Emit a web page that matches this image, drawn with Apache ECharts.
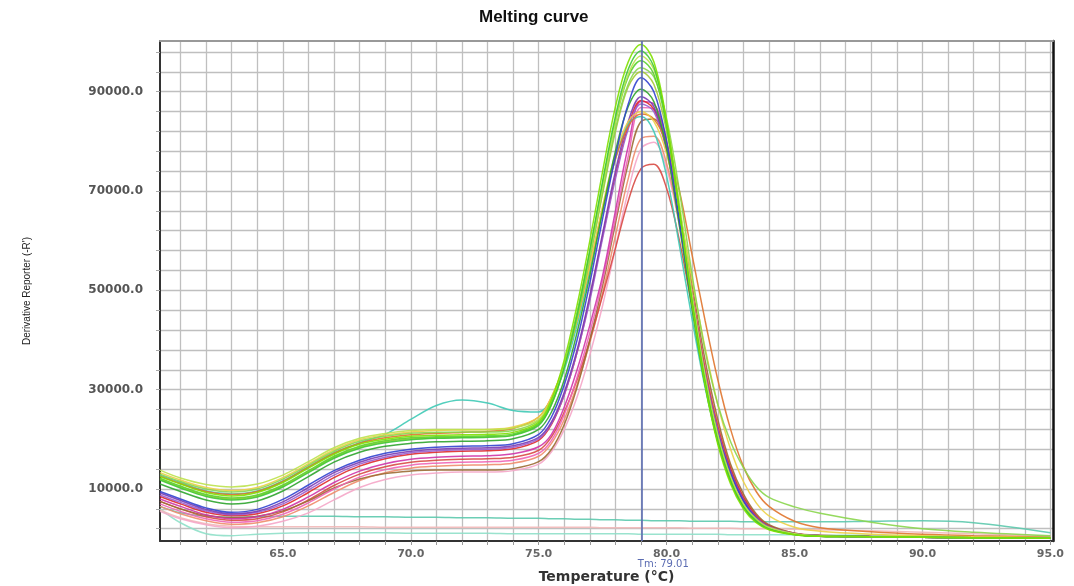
<!DOCTYPE html>
<html><head><meta charset="utf-8">
<script src="https://cdn.jsdelivr.net/npm/echarts@6/dist/echarts.min.js"></script>
<style>html,body{margin:0;padding:0;background:#fff}#c{width:1074px;height:586px}</style>
</head><body><div id="c"></div>
<script>
// Temperature sample points (°C)
const temps = [60.2,61,62,63,64,65,66,67,68,69,70,71,72,73,74,75,75.5,76,76.5,77,77.5,78,78.5,79,79.5,80,80.5,81,81.5,82,82.5,83,83.5,84,85,86,88,90,92,95];
// Axis ticks / labels
const xGridValues = [61,62,63,64,65,66,67,68,69,70,71,72,73,74,75,76,77,78,79,80,81,82,83,84,85,86,87,88,89,90,91,92,93,94,95];
const xLabelValues = [65,70,75,80,85,90,95];
const yLabelValues = [10000,30000,50000,70000,90000];
const yGridValues = [2000,6000,10000,14000,18000,22000,26000,30000,34000,38000,42000,46000,50000,54000,58000,62000,66000,70000,74000,78000,82000,86000,90000,94000,98000];
const tm = 79.01;

// Derivative reporter values, in thousands (-R')
const wellLime     = [12.5,11.0,9.3,8.6,9.3,11.3,14.2,17.0,19.0,20.0,20.6,20.8,20.9,21.0,21.4,23.5,28,36,47,60,74,87,96,99.5,96,84,66,47,31,19,11,6,3.2,1.8,0.8,0.5,0.4,0.3,0.2,0.1];
const wellGreen    = [11.8,10.2,8.5,7.8,8.4,10.4,13.3,16.2,18.2,19.3,19.9,20.2,20.3,20.4,20.8,22.8,27,34.5,45,58,72,85,94.5,98.2,95,83.5,66,47.5,31.5,19.5,11.5,6.3,3.4,1.9,0.8,0.5,0.4,0.3,0.2,0.1];
const wellYellowGr = [13.8,12.2,10.9,10.4,11.0,12.8,15.5,18.3,20.2,21.2,21.8,22.0,22.0,22.0,22.3,24.0,28,35,45,57.5,71,84,93.5,97.2,94.5,84,67.5,49,33,21,12.5,7,4,2.3,1.0,0.6,0.4,0.3,0.2,0.1];
const wellGreen2   = [12.2,10.6,8.9,8.2,8.8,10.8,13.7,16.6,18.6,19.7,20.3,20.5,20.6,20.7,21.1,23.2,27.5,35,45.5,58,71.5,84,93,96.2,93.5,83,66.5,48.5,32.5,20.5,12,6.7,3.6,2.0,0.9,0.5,0.4,0.3,0.2,0.1];
const wellShoulder = [13.0,11.5,10.0,9.4,10.0,12.0,14.8,17.6,19.6,20.6,21.2,21.4,21.5,21.5,21.8,23.8,28,35,44.5,56.5,70,82.5,91.5,94.8,93,84.5,70,53,38,27,19.5,14.3,10.5,8.3,6.4,5.1,3.3,2.0,1.3,0.6];
const wellDkGreen  = [11.0,9.5,7.8,7.0,7.6,9.6,12.5,15.4,17.4,18.6,19.2,19.5,19.6,19.7,20.1,22.0,25.5,32,41.5,53,66,78,87,90.5,88,78.5,63,46,31,19.5,11.5,6.5,3.5,2.0,0.9,0.5,0.4,0.3,0.2,0.1];
const wellOlive    = [12.0,10.4,8.7,8.0,8.6,10.6,13.5,16.4,18.4,19.5,20.1,20.3,20.4,20.5,20.9,23.0,27,34.5,44.5,56.5,69.5,82,91,94,91.5,82,66,48.5,32.5,20.5,12,6.8,3.7,2.1,0.9,0.5,0.4,0.3,0.2,0.1];
const wellBlue     = [9.5,8.0,6.2,5.3,5.9,7.9,10.8,13.7,15.8,17.2,18.0,18.4,18.6,18.7,19.1,21.0,24.5,31,40,51.5,64.5,77,87.5,92.8,90,80,64,47,32,21,13,7.5,4,2.2,0.9,0.6,0.4,0.3,0.2,0.1];
const wellPurple   = [9.2,7.7,5.9,5.0,5.5,7.4,10.3,13.3,15.4,16.8,17.6,18.0,18.2,18.3,18.7,20.4,23.5,29.5,38,49,61.5,74,84,89,87,78.5,64,48,33,21.5,13.5,7.8,4.3,2.4,1.0,0.6,0.4,0.3,0.2,0.1];
const wellViolet   = [8.8,7.3,5.6,4.8,5.3,7.0,9.8,12.8,15.0,16.4,17.3,17.7,17.9,18.0,18.4,20.1,23.2,29,37.5,48,60.5,72.5,82.5,87.5,86,78,64,48.5,33.5,22,13.5,7.9,4.3,2.4,1.0,0.6,0.4,0.3,0.2,0.1];
const wellRed      = [8.5,7.0,5.3,4.6,5.0,6.6,9.3,12.3,14.6,16.1,17.0,17.4,17.6,17.7,18.1,19.8,23,29,37.5,48.5,61,73,83,88.2,86.5,78.5,64.5,49,34,22.5,14,8.2,4.5,2.5,1.0,0.6,0.4,0.3,0.2,0.1];
const wellMagenta  = [8.0,6.5,4.8,4.0,4.4,5.9,8.4,11.3,13.6,15.1,16.0,16.4,16.6,16.7,17.1,18.5,21,26.5,34,43,53,66,79,88,87.5,80,65.5,49,33.5,21.5,13,7.5,4.0,2.2,0.9,0.5,0.4,0.3,0.2,0.1];
const wellPink     = [7.0,5.5,4.0,3.3,3.6,4.9,7.2,10.0,12.4,13.9,14.8,15.2,15.4,15.5,15.8,17.2,19.8,25,32.5,41.5,52,64.5,77,86.8,86.5,79.5,65.5,49.5,34,22,13.5,7.8,4.2,2.3,0.9,0.5,0.4,0.3,0.2,0.1];
const wellTeal     = [12.8,11.3,9.6,9.0,9.6,11.6,14.5,17.3,19.3,21.0,24.0,26.8,27.9,27.3,25.8,25.5,28,34,43,54,66,76.5,83.5,85,82,73,59,44,30.5,19.5,11.5,6.5,3.5,2.0,0.9,0.5,0.4,0.3,0.2,0.1];
const wellOrange   = [12.6,11.1,9.5,8.9,9.5,11.5,14.4,17.2,19.2,20.3,20.9,21.2,21.4,21.6,22.2,24.5,28.5,35,44,55,66.5,76.5,83,85.5,84.5,79.5,70,57,44,32,22,14.5,9.5,6.5,3.5,2.2,1.4,0.9,0.6,0.3];
const wellYellow   = [13.3,11.8,10.3,9.7,10.3,12.3,15.1,17.9,19.9,20.9,21.5,21.8,21.9,22.0,22.5,24.5,28.5,35,44,55,67,77.5,84,86,84,77.5,66,52,38.5,27,18,11.5,7.2,4.6,2.3,1.5,0.9,0.6,0.4,0.2];
const wellBrown    = [7.5,6.0,4.7,4.2,4.5,5.6,7.6,10.2,12.0,13.1,13.6,13.8,13.8,13.8,14.1,15.5,18,23,30.5,40,51,63.5,75.5,84,84.5,78.5,66,51,36,24,15,9,5,2.8,1.1,0.6,0.4,0.3,0.2,0.1];
const wellSalmon   = [6.5,5.0,3.6,2.9,3.2,4.4,6.6,9.3,11.7,13.3,14.2,14.6,14.8,14.9,15.2,16.6,19.2,24,31,39.5,49.5,61,72.5,80.5,81,75.5,63.5,49,34.5,23,14.5,8.5,4.7,2.6,1.0,0.6,0.4,0.3,0.2,0.1];
const wellLtPink   = [5.5,4.0,2.8,2.2,2.5,3.5,5.2,7.8,10.3,11.9,12.8,13.2,13.4,13.4,13.7,15.0,17.5,22,28.5,37,47,58.5,70,78.5,79.8,74.5,63,48.5,34,22.5,14,8.2,4.5,2.5,1.0,0.6,0.4,0.3,0.2,0.1];
const wellRed2     = [7.5,6.0,4.4,3.7,4.0,5.4,7.8,10.7,13.0,14.5,15.4,15.8,16.0,16.1,16.4,17.8,20.5,25.5,32,40,49,58.5,68,74.5,75.4,70.5,60,46.5,33,22,14,8.3,4.6,2.6,1.1,0.7,0.5,0.4,0.3,0.1];
const wellNtc1     = [6.5,5.2,4.5,4.3,4.4,4.5,4.5,4.5,4.4,4.4,4.3,4.3,4.2,4.2,4.1,4.1,4.0,4.0,3.9,3.9,3.8,3.8,3.7,3.7,3.6,3.6,3.6,3.5,3.5,3.5,3.5,3.4,3.4,3.4,3.4,3.4,3.5,3.6,3.2,1.2];
const wellNtc2     = [6.0,3.2,1.0,0.6,0.9,1.1,1.2,1.2,1.2,1.2,1.1,1.1,1.1,1.1,1.0,1.0,1.0,1.0,1.0,1.0,1.0,1.0,1.0,0.9,0.9,0.9,0.9,0.9,0.9,0.9,0.8,0.8,0.8,0.8,0.8,0.7,0.7,0.6,0.5,0.3];
const wellNtc3     = [5.8,4.2,3.0,2.5,2.4,2.4,2.4,2.4,2.4,2.3,2.3,2.3,2.3,2.3,2.3,2.3,2.3,2.3,2.3,2.3,2.2,2.2,2.2,2.2,2.2,2.2,2.2,2.1,2.1,2.1,2.1,2.0,2.0,2.0,1.9,1.8,1.6,1.3,1.0,0.5];

const wells = [wellNtc1,wellNtc2,wellNtc3,wellLtPink,wellSalmon,wellRed2,wellBrown,wellPink,wellMagenta,wellRed,wellViolet,wellPurple,wellTeal,wellOrange,wellYellow,wellDkGreen,wellBlue,wellOlive,wellShoulder,wellGreen2,wellYellowGr,wellGreen,wellLime];
const colors = ['#5cc9ad','#8fe0c9','#f2b8b8','#f5a6c8','#ef8c6c','#d84a44','#9c6b34','#f064b4','#cf34a8','#e02a2a','#9b5ed0','#7a3cb4','#3fcab6','#e0742c','#ecd046','#2ea42e','#3242d0','#a4ca36','#8ad64c','#5ad22c','#bce24e','#3ec834','#80e000'];

const series = wells.map((vals, k) => ({
  type: 'line',
  name: 'Well ' + (k + 1),
  data: temps.map((t, i) => [t, vals[i] * 1000]),
  smooth: 0.35,
  showSymbol: false,
  symbol: 'none',
  lineStyle: { width: 1.5, color: colors[k], opacity: 0.9 },
  itemStyle: { color: colors[k] },
  z: 3
}));
series.push({
  type: 'line',
  name: 'Tm',
  data: [],
  markLine: {
    silent: true,
    symbol: 'none',
    animation: false,
    lineStyle: { color: '#5b6cb2', width: 1.6, type: 'solid' },
    label: {
      show: true, position: 'start', formatter: 'Tm: ' + tm.toFixed(2),
      color: '#5b6cb2', fontSize: 10, fontFamily: 'DejaVu Sans', offset: [22, 13]
    },
    data: [{ xAxis: tm }]
  },
  z: 5
});

const chart = echarts.init(document.getElementById('c'), null, { renderer: 'canvas' });
chart.setOption({
  animation: false,
  backgroundColor: '#ffffff',
  title: {
    text: 'Melting curve', left: 474, top: 4,
    textStyle: { fontFamily: 'Liberation Sans', fontWeight: 'bold', fontSize: 17, color: '#111' }
  },
  grid: { left: 160, right: 21, top: 41, bottom: 45, containLabel: false, outerBoundsMode: 'none' },
  xAxis: [{
    type: 'value', min: 60.2, max: 95.1,
    name: 'Temperature (°C)', nameLocation: 'middle', nameGap: 29,
    nameTextStyle: { fontFamily: 'DejaVu Sans', fontWeight: 'bold', fontSize: 14, color: '#333' },
    axisLine: { show: true, onZero: false, lineStyle: { color: '#333', width: 2 } },
    axisTick: { show: true, length: 4, customValues: xGridValues, lineStyle: { color: '#999' } },
    axisLabel: { customValues: xLabelValues, formatter: v => v.toFixed(1), margin: 8,
      fontFamily: 'DejaVu Sans', fontWeight: 'bold', fontSize: 11, color: '#666' },
    splitLine: { show: true, lineStyle: { color: '#bfbfbf', width: 1.3 } }
  }, {
    type: 'value', min: 60.2, max: 95.1, position: 'top',
    axisLine: { show: true, onZero: false, lineStyle: { color: '#999', width: 2 } },
    axisTick: { show: false }, axisLabel: { show: false }, splitLine: { show: false }
  }],
  yAxis: [{
    type: 'value', min: -470, max: 100200,
    name: "Derivative Reporter (-R')", nameLocation: 'middle', nameGap: 128,
    nameTextStyle: { fontFamily: 'Liberation Sans', fontSize: 10, color: '#222' },
    axisLine: { show: true, onZero: false, lineStyle: { color: '#333', width: 2 } },
    axisTick: { show: true, length: 4, customValues: yGridValues, lineStyle: { color: '#aaa' } },
    axisLabel: { customValues: yLabelValues, formatter: v => v.toFixed(1), margin: 17,
      fontFamily: 'DejaVu Sans', fontWeight: 'bold', fontSize: 12, color: '#555' },
    splitLine: { show: true, lineStyle: { color: '#bfbfbf', width: 1.3 } }
  }, {
    type: 'value', min: -470, max: 100200, position: 'right',
    axisLine: { show: true, onZero: false, lineStyle: { color: '#111', width: 2.5 } },
    axisTick: { show: false }, axisLabel: { show: false }, splitLine: { show: false }
  }],
  series: series
});
</script>
</body></html>
